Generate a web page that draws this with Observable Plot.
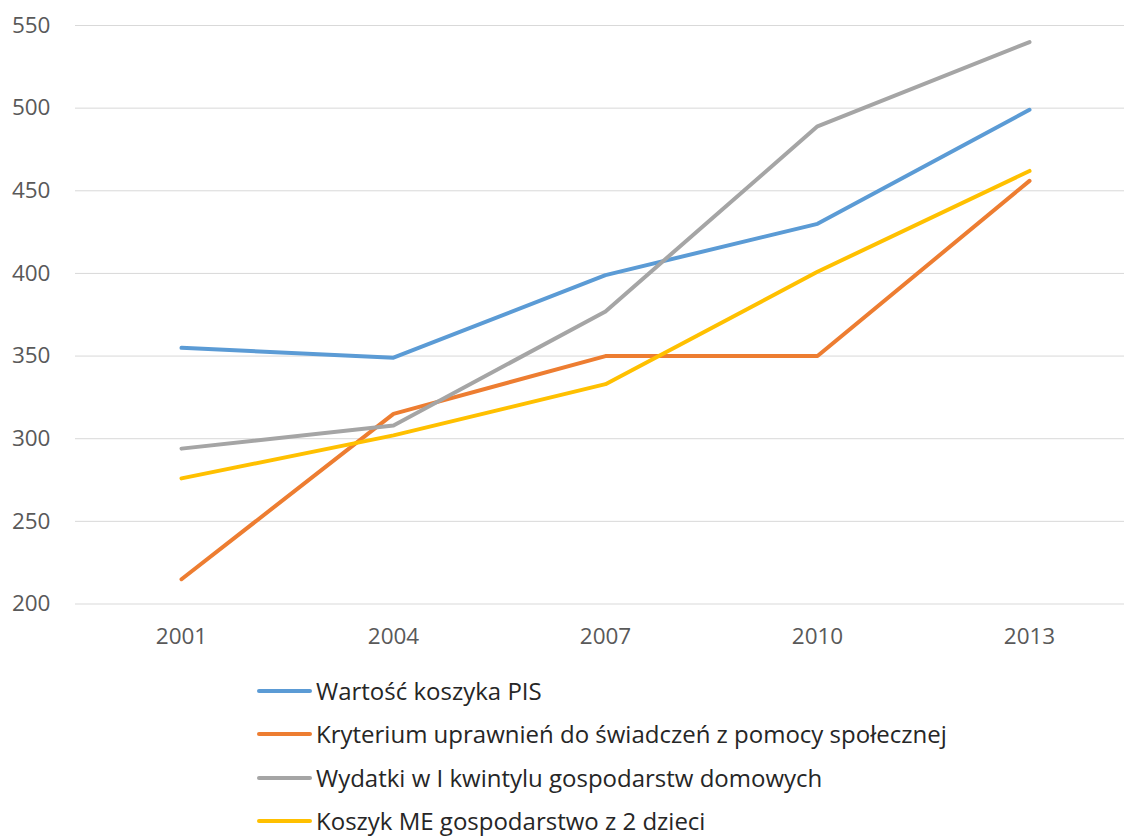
<!DOCTYPE html>
<html><head><meta charset="utf-8">
<script src="https://cdn.jsdelivr.net/npm/d3@7"></script>
<script src="https://cdn.jsdelivr.net/npm/@observablehq/plot@0.6"></script>
<style>
body{margin:0;background:#fff;font-family:"Open Sans",sans-serif;}
#legend{position:absolute;left:257px;top:669px;}
.item{display:flex;align-items:center;height:43.5px;font-size:24px;line-height:30px;color:#262626;}
.sw{width:55px;height:4px;border-radius:2px;margin-right:4px;}
</style></head><body>
<div id="chart"></div>
<div id="legend"></div>
<script>
const years = ["2001","2004","2007","2010","2013"];
const seriesNames = [
  "Wartość koszyka PIS",
  "Kryterium uprawnień do świadczeń z pomocy społecznej",
  "Wydatki w I kwintylu gospodarstw domowych",
  "Koszyk ME gospodarstwo z 2 dzieci"
];
const pis = [355, 349, 399, 430, 499];
const kryterium = [215, 315, 350, 350, 456];
const wydatki = [294, 308, 377, 489, 540];
const koszykME = [276, 302, 333, 401, 462];
const colors = ["#5B9BD5", "#ED7D31", "#A5A5A5", "#FFC000"];
const yTicks = [200, 250, 300, 350, 400, 450, 500, 550];

const allSeries = [pis, kryterium, wydatki, koszykME];
const data = [];
allSeries.forEach((vals, i) => vals.forEach((v, j) => data.push({series: seriesNames[i], year: years[j], value: v})));

const chart = Plot.plot({
  width: 1124, height: 660,
  marginTop: 25, marginBottom: 56.5, marginLeft: 75, marginRight: 0,
  style: {fontFamily: "'Open Sans', sans-serif", fontSize: "22.5px", color: "#595959", background: "#fff"},
  x: {type: "point", domain: years, range: [180, 1030], padding: 0, label: null},
  y: {domain: [200, 550], label: null},
  color: {domain: seriesNames, range: colors},
  marks: [
    Plot.gridY(yTicks, {stroke: "#D9D9D9", strokeOpacity: 1, strokeWidth: 1}),
    Plot.axisY(yTicks, {tickSize: 0, tickPadding: 25, fill: "#595959", label: null}),
    Plot.axisX({tickSize: 0, tickPadding: 24, fill: "#595959", label: null}),
    Plot.line(data, {x: "year", y: "value", z: "series", stroke: "series", strokeWidth: 4, strokeLinecap: "round", strokeLinejoin: "round"})
  ]
});
document.getElementById("chart").appendChild(chart);

const lg = document.getElementById("legend");
seriesNames.forEach((n, i) => {
  const d = document.createElement("div"); d.className = "item";
  const s = document.createElement("div"); s.className = "sw"; s.style.background = colors[i];
  const t = document.createElement("span"); t.textContent = n;
  d.appendChild(s); d.appendChild(t); lg.appendChild(d);
});
</script></body></html>
